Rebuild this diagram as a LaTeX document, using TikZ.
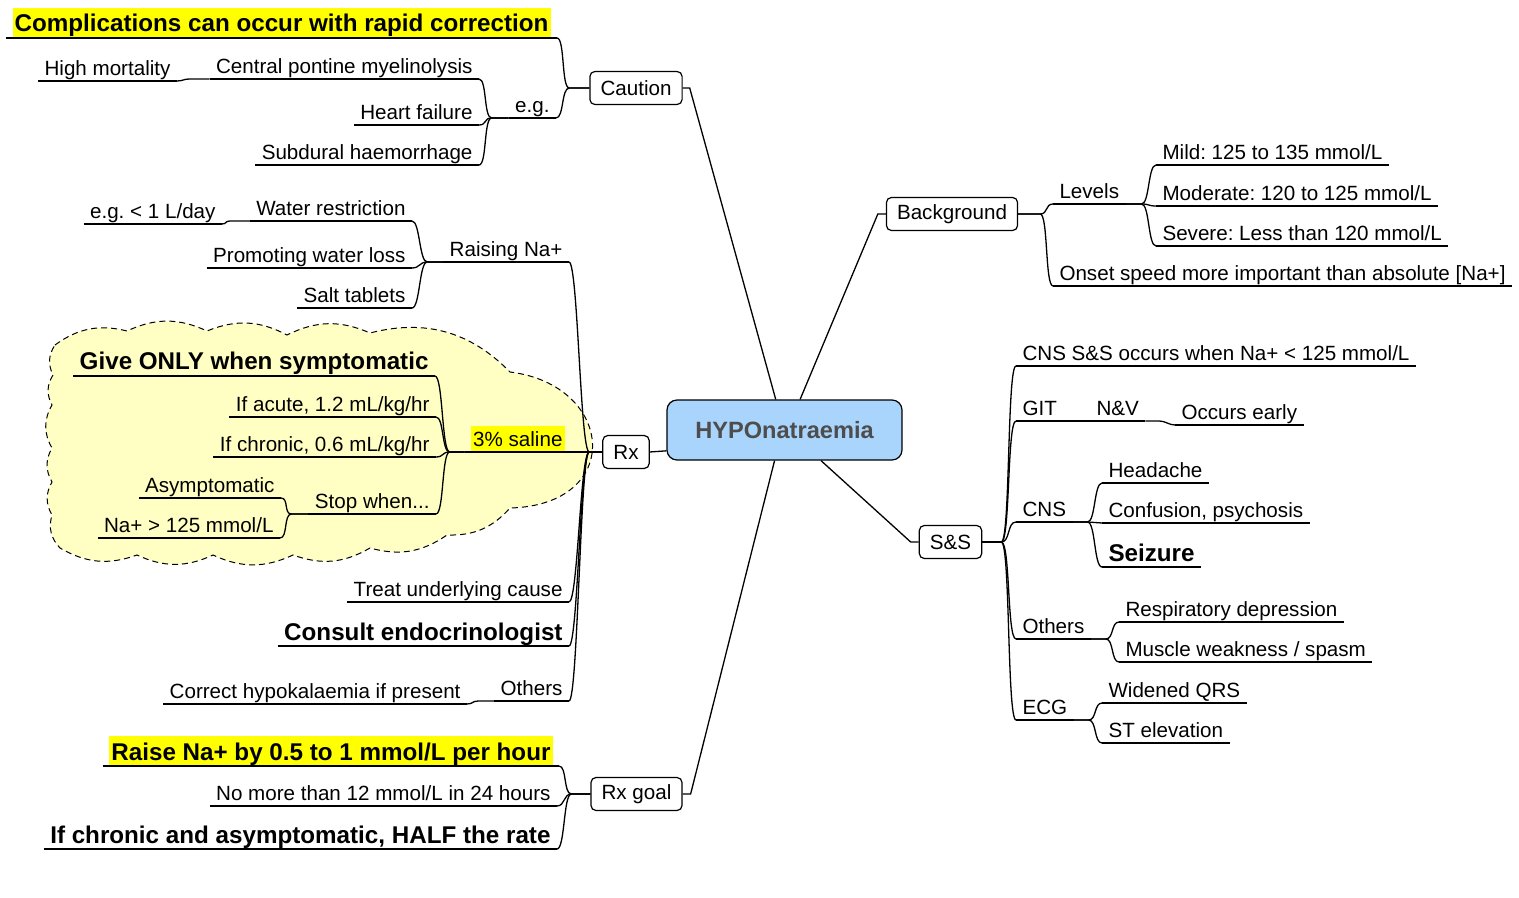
\documentclass[tikz,border=0pt]{standalone}
\usepackage{fontspec}
\setmainfont{Liberation Sans}
\usepackage{tikz}
\definecolor{hubblue}{HTML}{A9D4FB}
\definecolor{hubtext}{HTML}{4D4D4D}
\definecolor{hlyellow}{HTML}{FFFF00}
\definecolor{cloudfill}{HTML}{FFFFC4}
\newcommand{\hilite}[1]{{\setlength{\fboxsep}{1pt}\colorbox{hlyellow}{\rule[-0.2em]{0pt}{1.12em}#1}}}
\frenchspacing

\begin{document}
\begin{tikzpicture}[x=0.5pt,y=-0.5pt,
  conn/.style={line width=0.65pt},
  base/.style={font=\fontsize{10.3}{12}\selectfont,inner xsep=3.25pt,inner ysep=0pt,
    text height=7.8pt,text depth=2.6pt,outer sep=0pt},
  big/.style={font=\fontsize{12.1}{14}\selectfont\bfseries,text height=9pt,text depth=3pt},
  uline/.style={append after command={(\tikzlastnode.south west) edge[conn] (\tikzlastnode.south east)}},
  lt/.style={base,uline,anchor=south east},
  rt/.style={base,uline,anchor=south west},
  box/.style={draw,rounded corners=2.5pt,line width=0.6pt,fill=white,
    font=\fontsize{10.3}{12}\selectfont,inner xsep=5.3pt,minimum height=16.5pt},
  hub/.style={draw,rounded corners=5pt,line width=0.6pt,fill=hubblue,text=hubtext,
    font=\fontsize{11.8}{14}\selectfont\bfseries,minimum width=117.5pt,minimum height=30pt},
  cloudline/.style={draw,fill=cloudfill,line width=0.5pt,dash pattern=on 3pt off 2pt}]
\useasboundingbox (0,0) rectangle (1519,898);

% cloud round the 3% saline part
\path[cloudline] (55,345) to[bend left=25] (127,331) to[bend left=25] (207,331)
  to[bend left=25] (287,335) to[bend left=25] (370,333) to[bend left=30] (510,372)
  .. controls (615,385) and (625,505) .. (510,508)
  to[bend left=25] (447,535) to[bend left=25] (370,548) to[bend left=25] (293,555)
  to[bend left=25] (213,555) to[bend left=25] (137,555) to[bend left=25] (60,548)
  to[bend left=30] (52,515) to[bend left=30] (52,482) to[bend left=30] (52,448)
  to[bend left=30] (52,405) to[bend left=30] (53,375) to[bend left=30] (55,345) -- cycle;

% main boxes
\node[hub] (hypo) at (784.5,430) {HYPOnatraemia};
\node[box] (caution) at (636,88) {Caution};
\node[box] (bg) at (952,214) {Background};
\node[box] (rx) at (626,452) {Rx};
\node[box] (ss) at (950.5,542) {S\&S};
\node[box] (goal) at (636.5,794) {Rx goal};

% caution
\node[lt,big] (compl) at (557,38) {\hilite{Complications can occur with rapid correction}};
\node[lt] (eg) at (556,118) {e.g.};
\node[lt] (cpm) at (479,79) {Central pontine myelinolysis};
\node[lt] (hm) at (177,81) {High mortality};
\node[lt] (hf) at (479,125) {Heart failure};
\node[lt] (sh) at (479,165) {Subdural haemorrhage};

% rx
\node[lt] (raising) at (569,262) {Raising Na+};
\node[lt] (wr) at (412,221) {Water restriction};
\node[lt] (eg2) at (222,224) {e.g. < 1 L/day};
\node[lt] (pwl) at (412,268) {Promoting water loss};
\node[lt] (st) at (412,308) {Salt tablets};
\node[lt] (saline) at (571,452) {\hilite{3\% saline}};
\node[lt,big] (give) at (435,376) {Give ONLY when symptomatic};
\node[lt] (acute) at (436,417) {If acute, 1.2 mL/kg/hr};
\node[lt] (chronic) at (436,457) {If chronic, 0.6 mL/kg/hr};
\node[lt] (stop) at (436,514) {Stop when...};
\node[lt] (asym) at (281,498) {Asymptomatic};
\node[lt] (na125) at (280,538) {Na+ > 125 mmol/L};
\node[lt] (treat) at (569,602) {Treat underlying cause};
\node[lt,big] (consult) at (569,646) {Consult endocrinologist};
\node[lt] (others) at (569,701) {Others};
\node[lt] (hypok) at (467,704) {Correct hypokalaemia if present};

% rx goal
\node[lt,big] (raise) at (559,766) {\hilite{Raise Na+ by 0.5 to 1 mmol/L per hour}};
\node[lt] (nomore) at (557,806) {No more than 12 mmol/L in 24 hours};
\node[lt,big] (ifchr) at (557,849) {If chronic and asymptomatic, HALF the rate};

% background
\node[rt] (levels) at (1053,204) {Levels};
\node[rt] (mild) at (1156,165) {Mild: 125 to 135 mmol/L};
\node[rt] (moderate) at (1156,206) {Moderate: 120 to 125 mmol/L};
\node[rt] (severe) at (1156,246) {Severe: Less than 120 mmol/L};
\node[rt] (onset) at (1053,286) {Onset speed more important than absolute [Na+]};

% s&s
\node[rt] (cnsss) at (1016,366) {CNS S\&S occurs when Na+ < 125 mmol/L};
\node[rt] (git) at (1016,421) {GIT};
\node[rt] (nv) at (1090,421) {N\&V};
\node[rt] (early) at (1175,425) {Occurs early};
\node[rt] (cns) at (1016,522) {CNS};
\node[rt] (headache) at (1102,483) {Headache};
\node[rt] (confusion) at (1102,523) {Confusion, psychosis};
\node[rt,big] (seizure) at (1102,567) {Seizure};
\node[rt] (othersr) at (1016,639) {Others};
\node[rt] (resp) at (1119,622) {Respiratory depression};
\node[rt] (muscle) at (1119,662) {Muscle weakness / spasm};
\node[rt] (ecg) at (1016,720) {ECG};
\node[rt] (widened) at (1102,703) {Widened QRS};
\node[rt] (stelev) at (1102,743) {ST elevation};

% from the centre
\draw[conn] (hypo.106) -- ([xshift=3.5pt]caution.east) -- (caution.east);
\draw[conn] (hypo.63) -- ([xshift=-4pt]bg.west) -- (bg.west);
\draw[conn] (hypo.190) -- (rx.east);
\draw[conn] (hypo.320) -- ([xshift=-4pt]ss.west) -- (ss.west);
\draw[conn] (hypo.252) -- ([xshift=4pt]goal.east) -- (goal.east);

% left branches
\draw[conn] (caution.west) -- ++(-20,0) .. controls +(-8,0) and +(8,0) .. (compl.south east);
\draw[conn] (caution.west) -- ++(-20,0) .. controls +(-8,0) and +(8,0) .. (eg.south east);
\draw[conn] (eg.south west) -- ++(-17,0) .. controls +(-8,0) and +(8,0) .. (cpm.south east);
\draw[conn] (eg.south west) -- ++(-17,0) .. controls +(-8,0) and +(8,0) .. (hf.south east);
\draw[conn] (eg.south west) -- ++(-17,0) .. controls +(-8,0) and +(8,0) .. (sh.south east);
\draw[conn] (cpm.south west) -- ++(-20,0) .. controls +(-6,0) and +(6,0) .. (hm.south east);

\draw[conn] (rx.west) -- ++(-13,0) .. controls +(-9,0) and +(9,0) .. (raising.south east);
\draw[conn] (rx.west) -- (saline.south east);
\draw[conn] (rx.west) -- ++(-13,0) .. controls +(-9,0) and +(9,0) .. (treat.south east);
\draw[conn] (rx.west) -- ++(-13,0) .. controls +(-9,0) and +(9,0) .. (consult.south east);
\draw[conn] (rx.west) -- ++(-13,0) .. controls +(-9,0) and +(9,0) .. (others.south east);
\draw[conn] (raising.south west) -- ++(-16,0) .. controls +(-8,0) and +(8,0) .. (wr.south east);
\draw[conn] (raising.south west) -- ++(-16,0) .. controls +(-8,0) and +(8,0) .. (pwl.south east);
\draw[conn] (raising.south west) -- ++(-16,0) .. controls +(-8,0) and +(8,0) .. (st.south east);
\draw[conn] (wr.south west) -- ++(-20,0) .. controls +(-5,0) and +(5,0) .. (eg2.south east);
\draw[conn] (saline.south west) -- ++(-15,0) .. controls +(-8,0) and +(8,0) .. (give.south east);
\draw[conn] (saline.south west) -- ++(-15,0) .. controls +(-8,0) and +(8,0) .. (acute.south east);
\draw[conn] (saline.south west) -- ++(-15,0) .. controls +(-8,0) and +(8,0) .. (chronic.south east);
\draw[conn] (saline.south west) -- ++(-15,0) .. controls +(-8,0) and +(8,0) .. (stop.south east);
\draw[conn] (stop.south west) -- ++(-17,0) .. controls +(-8,0) and +(8,0) .. (asym.south east);
\draw[conn] (stop.south west) -- ++(-17,0) .. controls +(-8,0) and +(8,0) .. (na125.south east);
\draw[conn] (others.south west) -- ++(-16,0) .. controls +(-6,0) and +(6,0) .. (hypok.south east);

\draw[conn] (goal.west) -- ++(-19,0) .. controls +(-8,0) and +(8,0) .. (raise.south east);
\draw[conn] (goal.west) -- ++(-19,0) .. controls +(-8,0) and +(8,0) .. (nomore.south east);
\draw[conn] (goal.west) -- ++(-19,0) .. controls +(-8,0) and +(8,0) .. (ifchr.south east);

% right branches
\draw[conn] (bg.east) -- ++(22,0) .. controls +(8,0) and +(-8,0) .. (levels.south west);
\draw[conn] (bg.east) -- ++(22,0) .. controls +(8,0) and +(-8,0) .. (onset.south west);
\draw[conn] (levels.south east) -- ++(16,0) .. controls +(8,0) and +(-8,0) .. (mild.south west);
\draw[conn] (levels.south east) -- ++(16,0) .. controls +(8,0) and +(-8,0) .. (moderate.south west);
\draw[conn] (levels.south east) -- ++(16,0) .. controls +(8,0) and +(-8,0) .. (severe.south west);

\draw[conn] (ss.east) -- ++(19,0) .. controls +(9,0) and +(-9,0) .. (cnsss.south west);
\draw[conn] (ss.east) -- ++(19,0) .. controls +(9,0) and +(-9,0) .. (git.south west);
\draw[conn] (ss.east) -- ++(19,0) .. controls +(9,0) and +(-9,0) .. (cns.south west);
\draw[conn] (ss.east) -- ++(19,0) .. controls +(9,0) and +(-9,0) .. (othersr.south west);
\draw[conn] (ss.east) -- ++(19,0) .. controls +(9,0) and +(-9,0) .. (ecg.south west);
\draw[conn] (git.south east) -- (nv.south west);
\draw[conn] (nv.south east) -- ++(14,0) .. controls +(6,0) and +(-6,0) .. (early.south west);
\draw[conn] (cns.south east) -- ++(15,0) .. controls +(8,0) and +(-8,0) .. (headache.south west);
\draw[conn] (cns.south east) -- ++(15,0) .. controls +(8,0) and +(-8,0) .. (confusion.south west);
\draw[conn] (cns.south east) -- ++(15,0) .. controls +(8,0) and +(-8,0) .. (seizure.south west);
\draw[conn] (othersr.south east) -- ++(15,0) .. controls +(8,0) and +(-8,0) .. (resp.south west);
\draw[conn] (othersr.south east) -- ++(15,0) .. controls +(8,0) and +(-8,0) .. (muscle.south west);
\draw[conn] (ecg.south east) -- ++(15,0) .. controls +(8,0) and +(-8,0) .. (widened.south west);
\draw[conn] (ecg.south east) -- ++(15,0) .. controls +(8,0) and +(-8,0) .. (stelev.south west);
\end{tikzpicture}
\end{document}
